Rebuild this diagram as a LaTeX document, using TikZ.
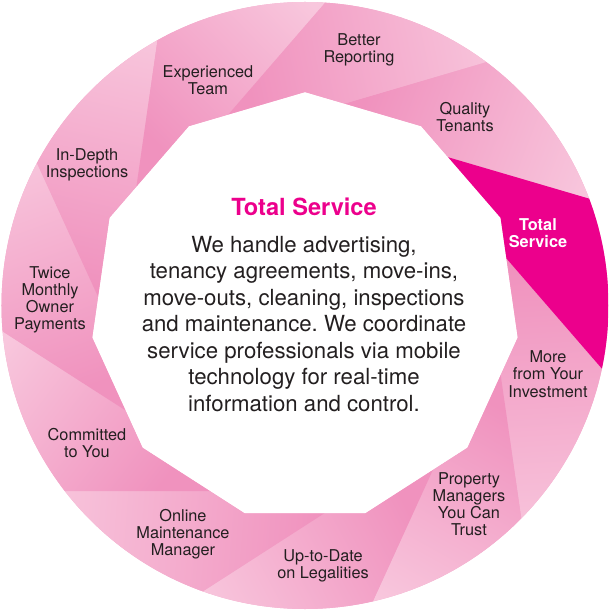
\documentclass[tikz,border=0pt]{standalone}
\usepackage{fontspec}
\setmainfont{TeX Gyre Heros}
\usetikzlibrary{calc}
\frenchspacing

\definecolor{tsmagenta}{RGB}{236,0,140}
\definecolor{pinkdark}{RGB}{240,146,190}
\definecolor{pinkmid}{RGB}{244,172,205}
\definecolor{pinklight}{RGB}{248,199,221}
\definecolor{lbltext}{RGB}{35,31,32}

\begin{document}
\begin{tikzpicture}[x=1pt,y=1pt,
	lbl/.style={align=center,text=lbltext,inner sep=0,font=\fontsize{16.3}{17.2}\selectfont},
	blade/.style={bottom color=pinkdark,top color=pinklight}]
	\useasboundingbox (-305,-303) rectangle (304,307);
	% corners of the inner hendecagon
	\foreach \k in {0,...,10} {
		\coordinate (V\k) at ({90-\k*360/11}:215);
	}
	% foot of each dividing line, and a point beyond the rim on it
	\foreach \k in {0,...,10} {
		\pgfmathtruncatemacro\kn{mod(\k+1,11)}
		\pgfmathtruncatemacro\kp{mod(\k+10,11)}
		\coordinate (P\k) at ($(V\k)!0.34!(V\kn)$);
		\coordinate (F\k) at ($(P\k)+1.5*(V\k)-1.5*(V\kp)$);
	}
	\fill[pinkmid,even odd rule] (0,1.5) circle (303.5) (V0) \foreach \k in {1,...,10} {-- (V\k)} -- cycle;
	\begin{scope}
		\clip (0,1.5) circle (303.5);
		\foreach \k in {0,2,3,...,10} {
			\pgfmathtruncatemacro\kn{mod(\k+1,11)}
			\pgfmathsetmacro\ang{-111-\k*360/11}
			\shade[blade,shading angle=\ang] (P\k) -- (V\kn) -- (P\kn) -- (F\kn) -- (F\k) -- cycle;
		}
		\fill[tsmagenta] (P1) -- (V2) -- (P2) -- (F2) -- (F1) -- cycle;
	\end{scope}

	\node[lbl] (better) at (54,257) {Better\\Reporting};
	\node[lbl] (quality) at (160,190) {Quality\\Tenants};
	\node[lbl,text=white,font=\bfseries\fontsize{16.3}{17.2}\selectfont] (total) at (233,74) {Total\\Service};
	\node[lbl] (more) at (243,-67) {More\\from Your\\Investment};
	\node[lbl] (managers) at (164,-197) {Property\\Managers\\You Can\\Trust};
	\node[lbl] (legal) at (18,-259) {Up-to-Date\\on Legalities};
	\node[lbl] (online) at (-122,-227) {Online\\Maintenance\\Manager};
	\node[lbl] (committed) at (-218,-136) {Committed\\to You};
	\node[lbl] (twice) at (-255,7) {Twice\\Monthly\\Owner\\Payments};
	\node[lbl] (depth) at (-218,142) {In-Depth\\Inspections};
	\node[lbl] (team) at (-97,227) {Experienced\\Team};

	\node[inner sep=0,text=tsmagenta,font=\bfseries\fontsize{23.6}{26}\selectfont] (title) at (-1,100) {Total Service};
	\node[align=center,inner sep=0,text=lbltext,font=\fontsize{22.2}{26.5}\selectfont] (body) at (-1,-17)
		{We handle advertising,\\tenancy agreements, move-ins,\\move-outs, cleaning, inspections\\and maintenance. We coordinate\\service professionals via mobile\\technology for real-time\\information and control.};
\end{tikzpicture}
\end{document}
